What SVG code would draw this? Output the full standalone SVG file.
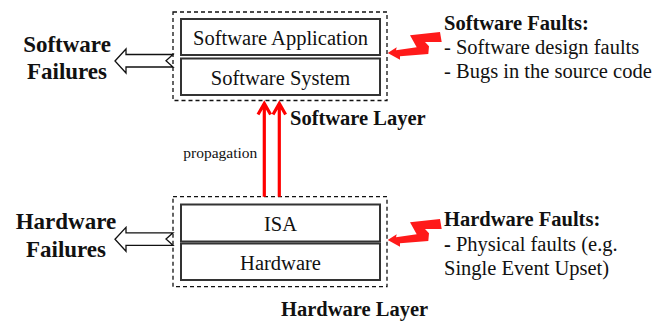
<svg xmlns="http://www.w3.org/2000/svg" width="668" height="322" viewBox="0 0 668 322">
<defs>
<style>
text{font-family:"Liberation Serif","Times New Roman",serif;fill:#111}
.b{font-weight:bold}
.lbl{font-size:20.5px}
.big{font-size:23px;font-weight:bold}
.lay{font-size:20.5px;font-weight:bold}
.outer{fill:none;stroke:#111;stroke-width:1.3;stroke-dasharray:4 3}
.inner{fill:#fff;stroke:#333;stroke-width:2}
.hollow{fill:#fff;stroke:#111;stroke-width:1.3;stroke-linejoin:miter}
.prop{fill:none;stroke:#ff0000;stroke-width:3.2}
.bolt{fill:#ff1a1a;stroke:none}
</style>
<polygon id="bolt" points="387.7,53 396.7,47.3 396,50.3 416.7,47.3 410,35.3 440,32 441.7,42 425,42 429,46.3 428.3,54 400,56.3 400,59.7"/>
</defs>

<g id="software-layer">
<rect class="outer" x="173" y="12" width="214" height="88.5"/>
<text class="lay" x="290" y="125">Software Layer</text>
</g>
<g id="software-application">
<rect class="inner" x="181" y="19" width="199" height="36"/>
<text class="lbl" x="280.5" y="45" text-anchor="middle">Software Application</text>
</g>
<g id="software-system">
<rect class="inner" x="181" y="58.5" width="199" height="36.5"/>
<text class="lbl" x="280.5" y="84.5" text-anchor="middle">Software System</text>
</g>

<g id="hardware-layer">
<rect class="outer" x="173" y="196.7" width="214" height="90"/>
<text class="lay" x="281" y="316">Hardware Layer</text>
</g>
<g id="isa">
<rect class="inner" x="181" y="204.5" width="199" height="37"/>
<text class="lbl" x="280.5" y="231" text-anchor="middle">ISA</text>
</g>
<g id="hardware">
<rect class="inner" x="181" y="243.5" width="199" height="36.5"/>
<text class="lbl" x="280.5" y="270" text-anchor="middle">Hardware</text>
</g>

<g id="software-failures">
<text class="big" x="67" y="52" text-anchor="middle">Software</text>
<text class="big" x="67" y="79" text-anchor="middle">Failures</text>
</g>
<g id="hardware-failures">
<text class="big" x="66" y="229" text-anchor="middle">Hardware</text>
<text class="big" x="66" y="256.5" text-anchor="middle">Failures</text>
</g>

<g id="software-faults">
<text class="lbl b" x="444" y="30">Software Faults:</text>
<text class="lbl" x="444" y="54.3">- Software design faults</text>
<text class="lbl" x="444" y="78.3">- Bugs in the source code</text>
</g>
<g id="hardware-faults">
<text class="lbl b" x="444" y="226">Hardware Faults:</text>
<text class="lbl" x="444" y="251"><tspan class="b">-</tspan> Physical faults (e.g.</text>
<text class="lbl" x="444" y="275">Single Event Upset)</text>
</g>

<g id="connectors">
<g class="hollow">
<polygon points="115,61 126,49 126,54.5 173,54.5 166,60.8 173,67 126,67 126,73"/>
<polygon points="115,239.3 126,227.3 126,232.8 173,232.8 166,239.1 173,245.3 126,245.3 126,251.3"/>
</g>
<g class="bolt">
<use href="#bolt"/>
<use href="#bolt" transform="translate(0,187)"/>
</g>
<g class="prop">
<path d="M264.3,196.7 V103.5 M258,114.5 L264.3,103.5 L270.6,114.5"/>
<path d="M279.3,196.7 V103.5 M273,114.5 L279.3,103.5 L285.6,114.5"/>
</g>
<text x="183.3" y="158" style="font-size:15.5px">propagation</text>
</g>
</svg>
